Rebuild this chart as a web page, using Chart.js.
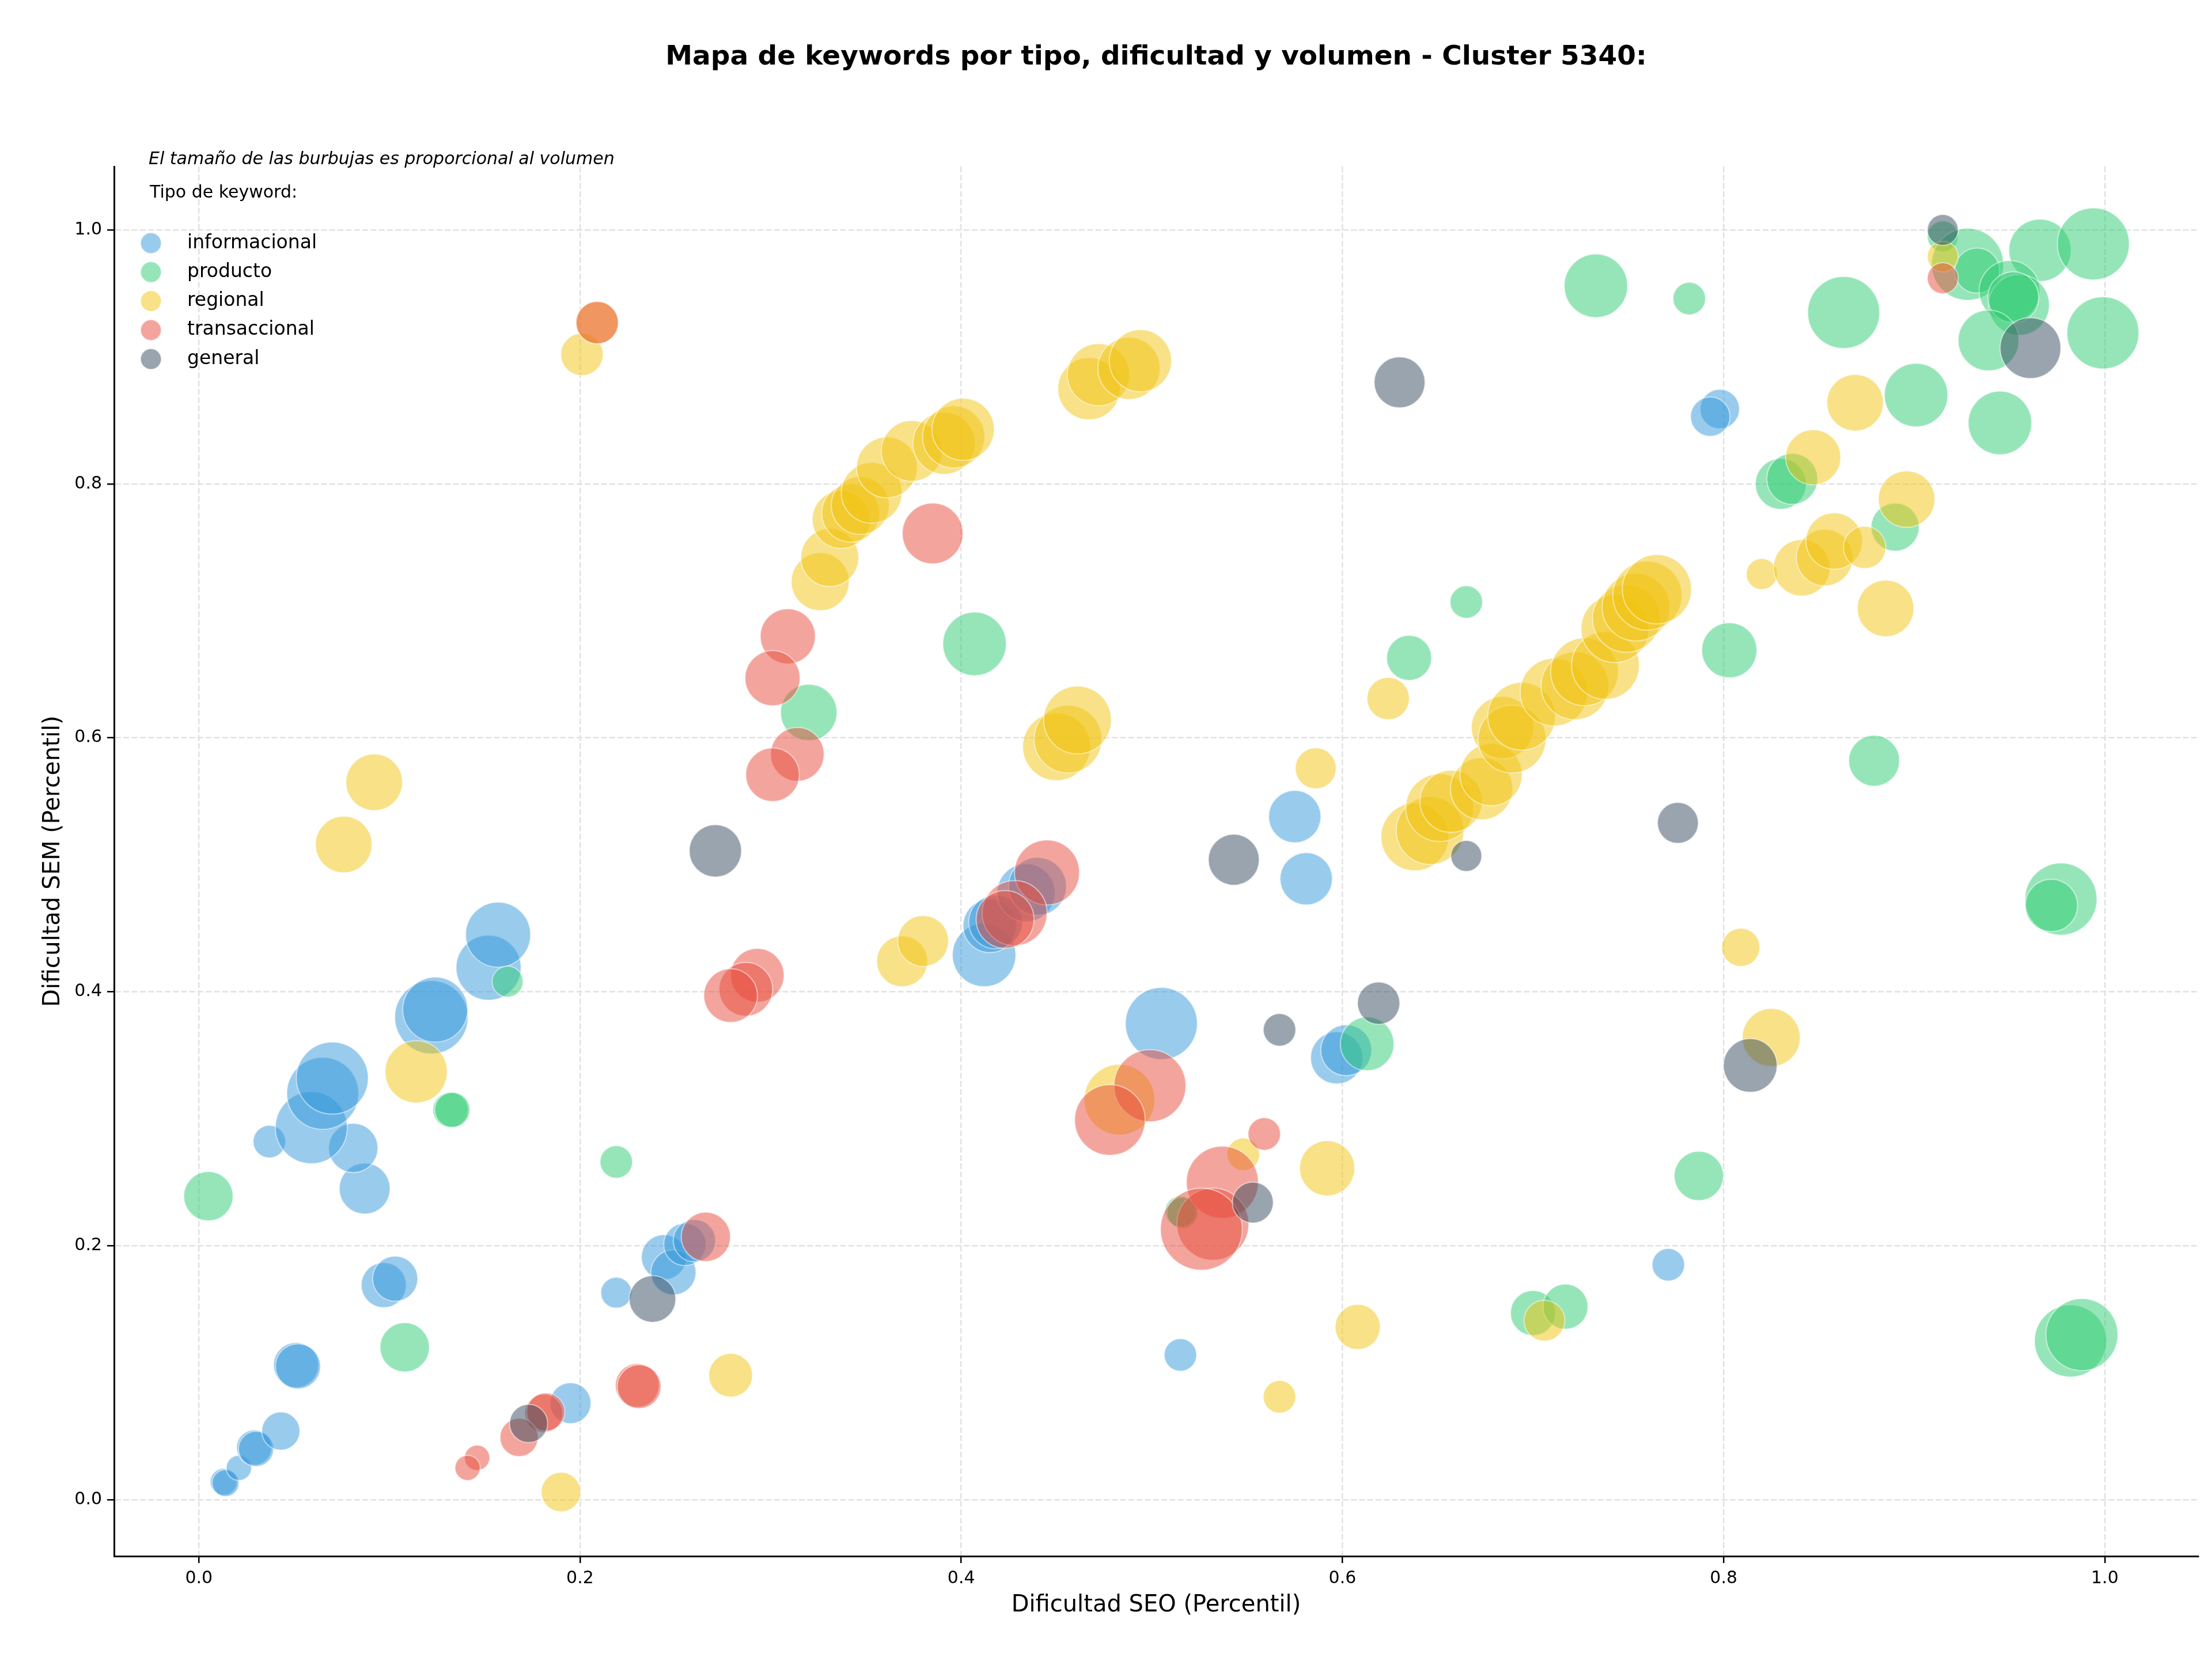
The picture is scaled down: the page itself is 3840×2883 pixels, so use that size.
<!DOCTYPE html>
<html>
<head>
<meta charset="utf-8">
<script src="https://cdn.jsdelivr.net/npm/chart.js@4.4.1/dist/chart.umd.min.js"></script>
<style>
html,body{margin:0;padding:0;background:#fff}
#wrap{width:3840px;height:2883px}
</style>
</head>
<body>
<div id="wrap"><canvas id="chart" width="3840" height="2883"></canvas></div>
<script>
const titulo = 'Mapa de keywords por tipo, dificultad y volumen - Cluster 5340:';
const nota = 'El tamaño de las burbujas es proporcional al volumen';
const tituloLeyenda = 'Tipo de keyword:';
const ejeX = 'Dificultad SEO (Percentil)';
const ejeY = 'Dificultad SEM (Percentil)';
const tipos = ['informacional', 'producto', 'regional', 'transaccional', 'general'];
const colores = ['#3498db', '#2ecc71', '#f1c40f', '#e74c3c', '#34495e'];
const ticks = [0, 0.2, 0.4, 0.6, 0.8, 1.0];
const tickLabels = ['0.0', '0.2', '0.4', '0.6', '0.8', '1.0'];

// [dificultad SEO, dificultad SEM, volumen]
const informacional = [
  [0.013,0.014,360],[0.014,0.013,360],[0.021,0.025,320],[0.029,0.041,620],[0.030,0.040,620],
  [0.043,0.054,730],[0.051,0.106,1020],[0.052,0.105,1020],[0.097,0.169,1020],[0.103,0.174,1020],
  [0.087,0.245,1300],[0.081,0.277,1220],[0.037,0.282,530],[0.059,0.293,2600],[0.065,0.320,2600],
  [0.070,0.332,2600],[0.122,0.380,2700],[0.124,0.386,2120],[0.152,0.419,2120],[0.157,0.445,2120],
  [0.219,0.163,480],[0.244,0.191,1020],[0.249,0.179,1020],[0.255,0.201,900],[0.260,0.204,900],
  [0.195,0.076,840],[0.412,0.429,2020],[0.415,0.452,1440],[0.418,0.455,1440],[0.434,0.478,1680],
  [0.440,0.483,1680],[0.505,0.375,2600],[0.575,0.538,1370],[0.581,0.489,1370],[0.597,0.348,1370],
  [0.602,0.354,1300],[0.515,0.114,530],[0.771,0.185,530],[0.798,0.859,780],[0.793,0.853,780]
];
const producto = [
  [0.005,0.239,1220],[0.108,0.120,1220],[0.132,0.307,620],[0.133,0.307,620],[0.162,0.408,480],
  [0.219,0.266,530],[0.320,0.620,1600],[0.407,0.674,2020],[0.515,0.227,480],[0.516,0.226,480],
  [0.613,0.359,1440],[0.635,0.663,1020],[0.665,0.707,530],[0.700,0.147,1020],[0.717,0.152,1020],
  [0.787,0.255,1220],[0.733,0.956,2020],[0.782,0.946,530],[0.803,0.669,1520],[0.879,0.582,1300],
  [0.830,0.800,1300],[0.836,0.804,1300],[0.890,0.766,1160],[0.863,0.935,2600],[0.901,0.870,2020],
  [0.945,0.848,2020],[0.915,0.995,480],[0.928,0.973,2600],[0.933,0.968,1020],[0.966,0.984,1940],
  [0.994,0.989,2600],[0.950,0.952,1850],[0.955,0.941,1850],[0.952,0.947,1300],[0.939,0.913,1850],
  [0.999,0.919,2600],[0.977,0.473,2600],[0.972,0.468,1370],[0.982,0.125,2600],[0.988,0.130,2600]
];
const regional = [
  [0.190,0.006,780],[0.279,0.098,960],[0.076,0.516,1600],[0.092,0.565,1600],[0.114,0.337,1940],
  [0.201,0.902,900],[0.209,0.927,900],
  [0.326,0.723,1680],[0.331,0.742,1680],[0.337,0.772,1680],[0.342,0.777,1680],[0.347,0.783,1680],
  [0.353,0.793,1850],[0.361,0.813,1850],[0.374,0.826,1850],[0.391,0.832,1940],[0.396,0.837,1940],
  [0.401,0.843,1940],[0.467,0.875,1940],[0.472,0.886,1940],[0.488,0.891,1940],[0.494,0.897,1940],
  [0.369,0.424,1300],[0.380,0.440,1300],[0.450,0.593,2300],[0.456,0.599,2300],[0.461,0.614,2300],
  [0.483,0.315,2500],[0.548,0.272,530],[0.592,0.261,1520],[0.586,0.576,840],[0.608,0.136,1020],
  [0.567,0.081,530],[0.624,0.631,900],
  [0.638,0.522,2300],[0.646,0.527,2300],[0.651,0.545,2300],[0.657,0.550,1940],[0.673,0.560,1940],
  [0.678,0.571,1940],[0.684,0.608,1940],[0.689,0.599,2300],[0.694,0.617,2300],[0.711,0.636,2300],
  [0.722,0.641,2300],[0.727,0.652,2300],[0.738,0.657,2300],[0.743,0.686,2300],[0.749,0.694,2300],
  [0.754,0.703,2300],[0.760,0.712,2400],[0.765,0.717,2400],
  [0.706,0.141,840],[0.809,0.435,730],[0.825,0.364,1680],[0.820,0.729,480],[0.841,0.734,1600],
  [0.853,0.742,1600],[0.858,0.755,1600],[0.874,0.750,900],[0.885,0.702,1600],[0.896,0.788,1600],
  [0.847,0.821,1520],[0.869,0.864,1600],[0.915,0.979,480]
];
const transaccional = [
  [0.209,0.927,900],[0.915,0.962,480],[0.385,0.761,1850],[0.309,0.680,1520],[0.301,0.647,1520],
  [0.314,0.587,1440],[0.301,0.571,1440],[0.445,0.494,2120],[0.428,0.462,2120],[0.423,0.457,1680],
  [0.293,0.413,1440],[0.287,0.402,1440],[0.279,0.397,1440],[0.499,0.326,2600],[0.478,0.299,2500],
  [0.559,0.288,530],[0.537,0.250,2600],[0.532,0.217,2600],[0.526,0.213,3360],[0.266,0.207,1220],
  [0.230,0.090,960],[0.231,0.089,960],[0.181,0.068,730],[0.182,0.069,730],[0.168,0.049,730],
  [0.146,0.033,320],[0.141,0.025,320]
];
const general = [
  [0.915,1.000,480],[0.961,0.907,1850],[0.630,0.880,1300],[0.776,0.533,840],[0.665,0.507,480],
  [0.543,0.504,1300],[0.271,0.511,1370],[0.619,0.391,900],[0.567,0.370,530],[0.814,0.342,1440],
  [0.553,0.234,840],[0.238,0.158,1090],[0.173,0.060,730]
];
const series = [informacional, producto, regional, transaccional, general];

// radio de burbuja a partir del volumen
const K = 2.449 / 2;
function alpha(hex, a){
  const n = parseInt(hex.slice(1), 16);
  return `rgba(${n>>16},${(n>>8)&255},${n&255},${a})`;
}

const datasets = tipos.map((t, i) => ({
  label: t,
  data: series[i].map(p => ({x: p[0], y: p[1], r: Math.sqrt(p[2]) * K})),
  backgroundColor: alpha(colores[i], 0.5),
  borderColor: 'rgba(255,255,255,0.5)',
  borderWidth: 2,
  order: tipos.length - i
}));

// titulo, nota y leyenda dentro del grafico
const textos = {
  id: 'textos',
  afterDraw(chart){
    const {ctx, chartArea: a} = chart;
    ctx.save();
    ctx.fillStyle = '#000';
    ctx.textBaseline = 'middle';
    ctx.textAlign = 'center';
    ctx.font = 'bold 47px "DejaVu Sans"';
    ctx.fillText(titulo, (a.left + a.right) / 2, 100);
    ctx.textAlign = 'left';
    ctx.font = 'italic 30px "DejaVu Sans"';
    ctx.fillText(nota, a.left + 60, a.top - 12);
    ctx.font = '30px "DejaVu Sans"';
    ctx.fillText(tituloLeyenda, a.left + 62, a.top + 46);
    ctx.font = '33px "DejaVu Sans"';
    tipos.forEach((t, i) => {
      const y = a.top + 133 + i * 50.3;
      ctx.beginPath();
      ctx.arc(a.left + 64, y, 18, 0, Math.PI * 2);
      ctx.fillStyle = alpha(colores[i], 0.5);
      ctx.fill();
      ctx.strokeStyle = 'rgba(255,255,255,0.5)';
      ctx.lineWidth = 2;
      ctx.stroke();
      ctx.fillStyle = '#000';
      ctx.fillText(t, a.left + 127, y);
    });
    ctx.restore();
  }
};

Chart.defaults.font.family = '"DejaVu Sans"';

function escala(min, max, label, fit, tpad){
  return {
    type: 'linear', min, max,
    afterBuildTicks: s => { s.ticks = ticks.map(v => ({value: v})); },
    ticks: {
      callback: (v, i) => tickLabels[i],
      font: {size: 30}, color: '#000', padding: 9, maxRotation: 0, autoSkip: false
    },
    grid: {
      color: '#e1e1e1', lineWidth: 2.5, drawTicks: true, tickLength: 12,
      tickColor: '#000', tickWidth: 2.5, tickBorderDash: []
    },
    border: {display: true, color: '#000', width: 3, dash: [10, 4.3]},
    title: {display: true, text: label, font: {size: 40}, color: '#000', padding: tpad},
    afterFit: fit
  };
}

new Chart(document.getElementById('chart').getContext('2d'), {
  type: 'bubble',
  data: {datasets},
  options: {
    responsive: false,
    animation: false,
    devicePixelRatio: 1,
    layout: {autoPadding: false, padding: {top: 289, right: 24, left: 0, bottom: 0}},
    plugins: {legend: {display: false}, title: {display: false}, tooltip: {enabled: false}},
    scales: {
      x: escala(-0.0445, 1.049, ejeX, s => { s.height = 182; }, {top: 0, bottom: 72}),
      y: escala(-0.0445, 1.05, ejeY, s => { s.width = 198; }, {top: 69, bottom: 0})
    }
  },
  plugins: [textos]
});
</script>
</body>
</html>
